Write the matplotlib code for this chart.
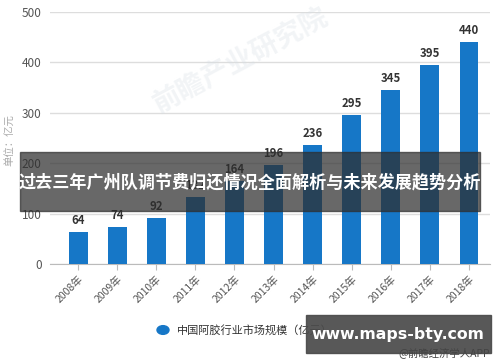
import matplotlib.pyplot as plt
from matplotlib.patches import Rectangle

plt.rcParams['font.family'] = ['Noto Sans CJK SC', 'DejaVu Sans']

# === Data ===
YEARS = ['2008年', '2009年', '2010年', '2011年', '2012年', '2013年',
         '2014年', '2015年', '2016年', '2017年', '2018年']
VALUES = [64, 74, 92, 132, 164, 196, 236, 295, 345, 395, 440]
Y_TICKS = [0, 100, 200, 300, 400, 500]
TITLE = '过去三年广州队调节费归还情况全面解析与未来发展趋势分析'
LEGEND = '中国阿胶行业市场规模（亿元）'
Y_LABEL = '单位：亿元'
SITE = 'www.maps-bty.com'
SOURCE = '@前瞻经济学人APP'

BLUE = '#1677c7'
W, H = 500, 362

fig = plt.figure(figsize=(5, 3.62), dpi=100)
ax = fig.add_axes([50 / W, 1 - 264 / H, 440 / W, (264 - 11.7) / H])

x = list(range(len(VALUES)))
ax.bar(x, VALUES, width=0.48, color=BLUE, zorder=3)
for xi, v in zip(x, VALUES):
    ax.text(xi, v + 10, str(v), ha='center', va='bottom', fontsize=8.2,
            fontweight='bold', color='#333333', zorder=4)

ax.set_xlim(-0.72, 10.54)
ax.set_ylim(0, 500)
ax.set_yticks(Y_TICKS)
ax.set_yticklabels([str(t) for t in Y_TICKS], fontsize=8.5, color='#555555')
ax.set_xticks(x)
ax.set_xticklabels(YEARS, rotation=45, ha='right', rotation_mode='anchor',
                   fontsize=7.5, color='#555555')
ax.tick_params(axis='y', length=0, pad=6)
ax.tick_params(axis='x', length=4, color='#bbbbbb', pad=3)
ax.grid(axis='y', color='#dddddd', linewidth=1, zorder=0)
for s in ['top', 'right', 'left']:
    ax.spines[s].set_visible(False)
ax.spines['bottom'].set_color('#bbbbbb')

fig.text(10 / W, 1 - 140 / H, Y_LABEL, rotation=90, ha='center', va='center',
         fontsize=7.5, color='#aaaaaa')

# faint watermark
fig.text(240 / W, 1 - 60 / H, '前瞻产业研究院', rotation=28, ha='center',
         va='center', fontsize=20, fontweight='bold', color='#d5dde4', alpha=0.3)

# legend
fig.add_artist(plt.Circle((163 / W, 1 - 330 / H), 0.012, transform=fig.transFigure,
                          color=BLUE))
fig.text(177 / W, 1 - 330 / H, LEGEND, ha='left', va='center', fontsize=8,
         color='#333333')

# title banner
fig.add_artist(Rectangle((20 / W, 1 - 211 / H), 460 / W, 59 / H,
                         transform=fig.transFigure, color='#2e2e2e', alpha=0.72,
                         zorder=10))
fig.text(250 / W, 1 - 182 / H, TITLE, ha='center', va='center', fontsize=12.3,
         fontweight='bold', color='white', zorder=11)

# site banner
fig.add_artist(Rectangle((306 / W, 1 - 353 / H), 185 / W, 38 / H,
                         transform=fig.transFigure, color='#4a4a4a', alpha=0.92,
                         zorder=10))
fig.text(398 / W, 1 - 334 / H, SITE, ha='center', va='center', fontsize=11.3,
         fontweight='bold', color='white', family='DejaVu Sans', zorder=11)
fig.text(490 / W, 1 - 353 / H, SOURCE, ha='right', va='center', fontsize=7.5,
         color='#444444', zorder=12)

fig.savefig('out.png', dpi=100)
